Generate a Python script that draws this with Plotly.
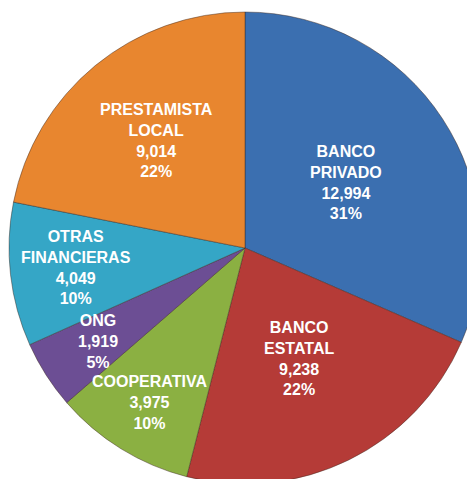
import math
import plotly.graph_objects as go

# Slices in clockwise order starting at 12 o'clock
labels = ["BANCO<br>PRIVADO", "BANCO<br>ESTATAL", "COOPERATIVA", "ONG",
          "OTRAS<br>FINANCIERAS", "PRESTAMISTA<br>LOCAL"]
values = [12994, 9238, 3975, 1919, 4049, 9014]
percents = [31, 22, 10, 5, 10, 22]
colors = ["#3B6FB0", "#B53B37", "#8BB042", "#6C4E94", "#35A6C6", "#E8862F"]

# label distance from centre, as a share of the radius
label_dist = [0.51, 0.52, 0.77, 0.74, 0.72, 0.59]

W, H = 475, 479
CX, CY, R = 237, 240, 236  # pie centre / radius in figure pixels

fig = go.Figure(go.Pie(
    values=values,
    labels=labels,
    textinfo="none",
    sort=False,
    direction="clockwise",
    rotation=0,
    marker=dict(colors=colors, line=dict(color="rgba(60,40,30,0.45)", width=1)),
    hoverinfo="label+value+percent",
    domain=dict(x=[(CX - R) / W, (CX + R) / W], y=[1 - (CY + R) / H, 1 - (CY - R) / H]),
    showlegend=False,
))

total = sum(values)
cum = 0
for lab, v, p, f in zip(labels, values, percents, label_dist):
    mid = 2 * math.pi * (cum + v / 2) / total
    cum += v
    px_ = CX + f * R * math.sin(mid)
    py_ = CY - f * R * math.cos(mid)
    fig.add_annotation(
        x=px_ / W, y=1 - py_ / H, xref="paper", yref="paper",
        xanchor="center", yanchor="middle",
        text=f"{lab}<br>{v:,}<br>{p}%",
        showarrow=False, align="center",
        font=dict(family="Arial, Liberation Sans, sans-serif", size=16,
                  color="white", weight="bold"),
    )

fig.update_layout(
    width=W, height=H,
    margin=dict(l=0, r=0, t=0, b=0),
    paper_bgcolor="white",
)

fig.write_html("out.html")
